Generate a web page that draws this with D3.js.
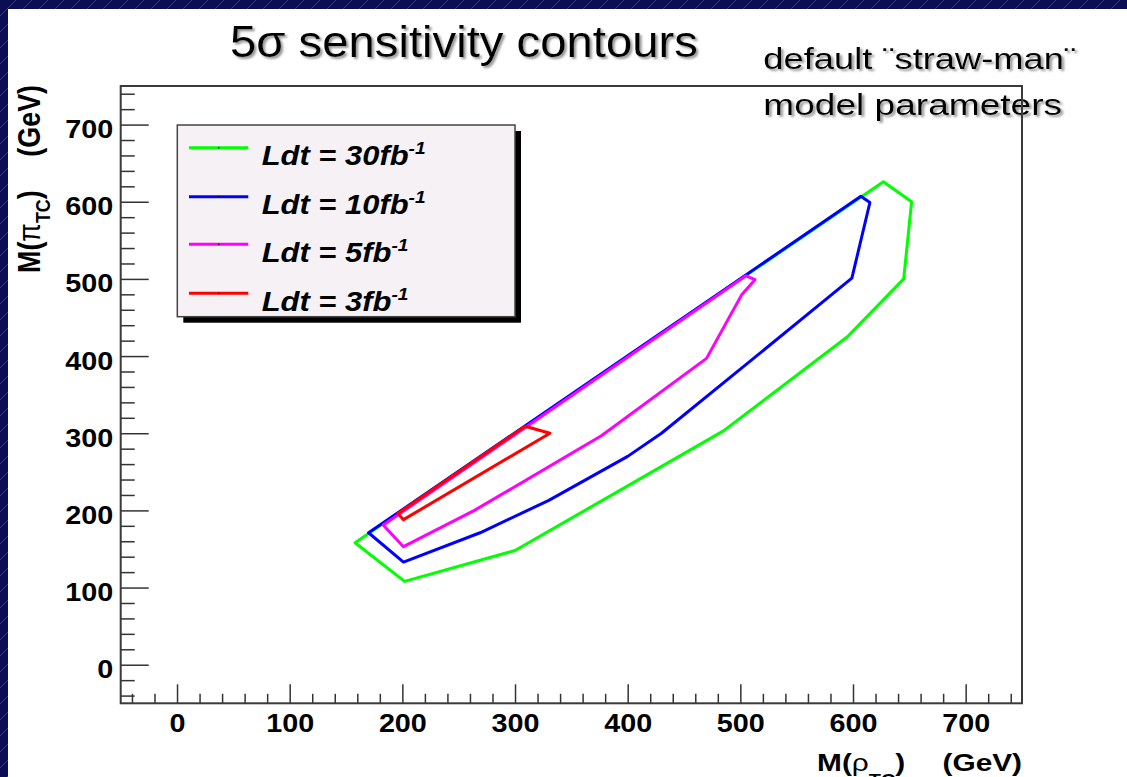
<!DOCTYPE html>
<html>
<head>
<meta charset="utf-8">
<script src="https://cdn.jsdelivr.net/npm/d3@7"></script>
<style>
  html, body { margin: 0; padding: 0; background: #0b0e52; }
  svg { display: block; }
  text { font-family: "Liberation Sans", Arial, Helvetica, sans-serif; }
</style>
</head>
<body>
<div id="chart"></div>
<script>
// 5 sigma sensitivity contours, vertices as [M(rho_TC), M(pi_TC)] in GeV
const lumiValues = [30, 10, 5, 3];
const contour30 = [[627, 626], [652, 600], [645, 500], [595, 425], [485, 303], [300, 148], [202, 108], [158, 158]];
const contour10 = [[607, 607], [615, 599], [599, 501], [500, 383], [430, 300], [400, 270], [330, 213], [269, 171], [201, 133], [170, 171]];
const contour5 = [[505, 504], [513, 499], [501, 479], [470, 397], [377, 297], [264, 200], [201, 153], [183, 181]];
const contour3 = [[309, 309], [331, 300], [201, 188], [196, 196]];

const xTicks = [0, 100, 200, 300, 400, 500, 600, 700];
const yTicks = [0, 100, 200, 300, 400, 500, 600, 700];

const titleText = "5\u03c3 sensitivity contours";
const noteLines = ["default \u00a8straw-man\u00a8", "model parameters"];

const contours = [contour30, contour10, contour5, contour3];
const lineColors = ["#00ff00", "#0000ff", "#ff00ff", "#ff0000"];

const W = 1127, H = 777;
const frame = { left: 120.7, right: 1022, top: 86, bottom: 703.3 };

const x = d3.scaleLinear().domain([-50, 750]).range([frame.left, frame.right]);
const y = d3.scaleLinear().domain([-50, 750]).range([frame.bottom, frame.top]);
const minor = d3.range(-40, 750, 20).filter(v => v % 100 !== 0);

const svg = d3.select("#chart").append("svg")
    .attr("width", W)
    .attr("height", H);

const defs = svg.append("defs");
const pat = defs.append("pattern")
    .attr("id", "hatch")
    .attr("width", 16).attr("height", 16)
    .attr("patternUnits", "userSpaceOnUse");
pat.append("rect").attr("width", 16).attr("height", 16).attr("fill", "#0b0e52");
pat.append("line")
    .attr("x1", 0).attr("y1", 16).attr("x2", 16).attr("y2", 0)
    .attr("stroke", "#6f80c8").attr("stroke-width", 0.7).attr("opacity", 0.6);

defs.append("filter").attr("id", "shadow")
    .attr("x", "-5%").attr("y", "-20%").attr("width", "115%").attr("height", "150%")
    .append("feDropShadow")
    .attr("dx", 2).attr("dy", 2).attr("stdDeviation", 0.8)
    .attr("flood-color", "#8a8a8a").attr("flood-opacity", 0.9);

// slide background + white panel
svg.append("rect").attr("width", W).attr("height", H).attr("fill", "url(#hatch)");
svg.append("rect").attr("x", 8).attr("y", 9).attr("width", W - 8).attr("height", H - 9).attr("fill", "#fff");

// stretch a text element horizontally so it spans w pixels
function fit(sel, px, py, w, sy = 1, rot = false) {
    const bw = sel.node().getBBox().width;
    sel.attr("transform", `translate(${px},${py})${rot ? " rotate(-90)" : ""} scale(${w / bw},${sy})`);
    return sel;
}

// axes
const yAxisMajor = svg.append("g")
    .attr("transform", `translate(${frame.left},0)`)
    .call(d3.axisLeft(y).tickValues(yTicks).tickSize(-28).tickPadding(6.4));
const yAxisMinor = svg.append("g")
    .attr("transform", `translate(${frame.left},0)`)
    .call(d3.axisLeft(y).tickValues(minor).tickSize(-14).tickFormat(""));
const xAxisMajor = svg.append("g")
    .attr("transform", `translate(0,${frame.bottom})`)
    .call(d3.axisBottom(x).tickValues(xTicks).tickSize(-19).tickPadding(10.6));
const xAxisMinor = svg.append("g")
    .attr("transform", `translate(0,${frame.bottom})`)
    .call(d3.axisBottom(x).tickValues(minor).tickSize(-9.5).tickFormat(""));

[yAxisMajor, yAxisMinor, xAxisMajor, xAxisMinor].forEach(g => {
    g.select(".domain").remove();
    g.selectAll("line").attr("stroke", "#333").attr("stroke-width", 1.5);
    g.selectAll("text")
        .attr("font-size", 25)
        .attr("font-weight", "bold")
        .attr("fill", "#000")
        .style("font-family", "'Liberation Sans', Arial, sans-serif");
});
yAxisMajor.selectAll("text").attr("dy", "0.52em").attr("transform", "scale(1.15,1)");
xAxisMajor.selectAll("text").attr("transform", "scale(1.15,1)");

// contours
const line = d3.line()
    .x(d => x(d[0]))
    .y(d => y(d[1]))
    .curve(d3.curveLinearClosed);

svg.append("g").selectAll("path")
    .data(contours)
    .join("path")
    .attr("d", d => line(d))
    .attr("fill", "none")
    .attr("stroke", (d, i) => lineColors[i])
    .attr("stroke-width", 3)
    .attr("stroke-linejoin", "round");

// legend
const lg = svg.append("g");
lg.append("rect")
    .attr("x", 183.3).attr("y", 131).attr("width", 337.7).attr("height", 191.7)
    .attr("fill", "#000");
lg.append("rect")
    .attr("x", 177.3).attr("y", 125).attr("width", 337.7).attr("height", 191.7)
    .attr("fill", "#f5f1f5").attr("stroke", "#444").attr("stroke-width", 1.5);

const legendY = [147.7, 196.7, 244.3, 293.3];
lumiValues.forEach((v, i) => {
    lg.append("line")
        .attr("x1", 189).attr("x2", 248.3)
        .attr("y1", legendY[i]).attr("y2", legendY[i])
        .attr("stroke", lineColors[i]).attr("stroke-width", 3);
    lg.append("rect")
        .attr("x", 218).attr("y", legendY[i] - 0.6).attr("width", 1.4).attr("height", 1.4)
        .attr("fill", "#000");
    const t = lg.append("text")
        .attr("font-size", 27.5)
        .attr("font-weight", "bold")
        .attr("font-style", "italic");
    t.append("tspan").text(`Ldt = ${v}fb`);
    t.append("tspan").attr("font-size", 17).attr("dy", -11).text("-1");
    t.attr("transform", `translate(261.7,${legendY[i] + 17.3}) scale(1.125,1)`);
});

// title and note
const title = svg.append("text")
    .attr("font-size", 44)
    .attr("filter", "url(#shadow)")
    .text(titleText);
fit(title, 230, 57, 468);

const noteX = 763.3;
const noteBase = [69.3, 115];
const noteW = [313, 299];
noteLines.forEach((s, i) => {
    const t = svg.append("text")
        .attr("font-size", 30)
        .attr("filter", "url(#shadow)")
        .text(s);
    fit(t, noteX, noteBase[i], noteW[i]);
});

// axis titles
const xt = svg.append("text")
    .attr("text-anchor", "end")
    .attr("font-size", 24)
    .attr("font-weight", "bold");
xt.append("tspan").text("M(");
xt.append("tspan").attr("font-weight", "normal").text("\u03c1");
xt.append("tspan").attr("font-size", 16).attr("dy", 15).text("TC");
xt.append("tspan").attr("dy", -15).text(")");
xt.append("tspan").attr("dx", 30).text("(GeV)");
fit(xt, frame.right, 771, 205);

const yt = svg.append("text")
    .attr("text-anchor", "end")
    .attr("font-size", 24)
    .attr("font-weight", "bold");
yt.append("tspan").text("M(");
yt.append("tspan").attr("font-weight", "normal").text("\u03c0");
yt.append("tspan").attr("font-size", 16).attr("dy", 8).text("TC");
yt.append("tspan").attr("dy", -8).text(")");
yt.append("tspan").attr("dx", 30).text("(GeV)");
fit(yt, 40, 85, 188, 1.3, true);

// frame on top
svg.append("rect")
    .attr("x", frame.left).attr("y", frame.top)
    .attr("width", frame.right - frame.left)
    .attr("height", frame.bottom - frame.top)
    .attr("fill", "none")
    .attr("stroke", "#3a3a3a")
    .attr("stroke-width", 2);
</script>
</body>
</html>
